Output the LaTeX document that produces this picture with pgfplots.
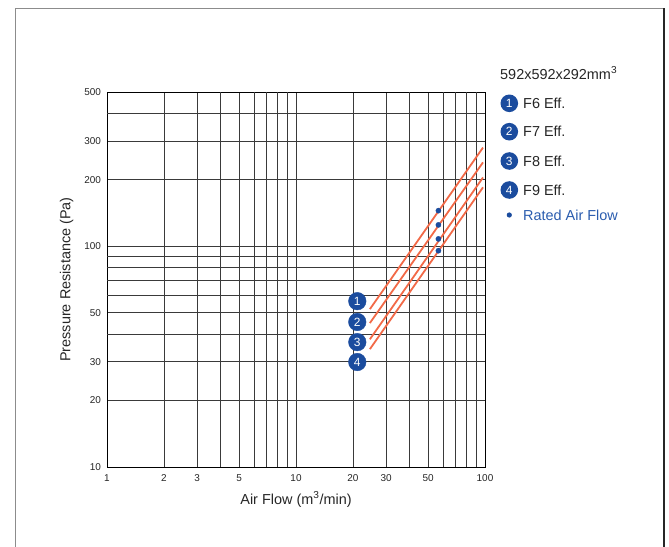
\documentclass[border=0pt]{standalone}
\usepackage{pgfplots}
\pgfplotsset{compat=1.18}
\usepackage{fontspec}
\setmainfont{Liberation Sans}
\definecolor{cblue}{HTML}{1B4C9E}
\definecolor{tblue}{HTML}{2A5CAE}
\definecolor{lorange}{HTML}{F26A48}
\definecolor{gridc}{HTML}{3A3A3A}
\begin{document}
\begin{tikzpicture}
\useasboundingbox (0,0) rectangle (669bp,-547bp);
% outer frame
\draw[line width=1bp, black!45] (15bp,-560bp) -- (15bp,-8bp) -- (664bp,-8bp);
\draw[line width=1.2bp, black!85] (664bp,-8bp) -- (664bp,-560bp);
\begin{axis}[
  at={(107bp,-467bp)}, anchor=south west,
  scale only axis, width=378bp, height=375bp,
  xmode=log, ymode=log,
  xmin=1, xmax=100, ymin=10, ymax=500,
  clip=false,
  axis line style={line width=0.8bp, black},
  xtick={1,2,3,5,10,20,30,50,100},
  xticklabels={1,2,3,5,10,20,30,50,100},
  ytick={10,20,30,50,100,200,300,500},
  yticklabels={10,20,30,50,100,200,300,500},
  extra x ticks={4,6,7,8,9,40,60,70,80,90},
  extra x tick labels={},
  extra y ticks={40,60,70,80,90,400},
  extra y tick labels={},
  extra x tick style={grid=major},
  extra y tick style={grid=major},
  minor tick num=0,
  major tick length=0pt,
  grid=major,
  major grid style={line width=0.7bp, gridc},
  tick label style={font=\fontsize{10}{11}\selectfont, text=black!85},
  xticklabel style={yshift=-4bp},
  yticklabel style={xshift=-2.5bp},
  xlabel={Air Flow (m\textsuperscript{3}/min)},
  ylabel={Pressure Resistance (Pa)},
  label style={font=\fontsize{14.5}{16}\selectfont, text=black!85},
  xlabel style={at={(axis description cs:0.5,-0.0987)}, anchor=base},
  ylabel style={at={(axis description cs:-0.097,0.5)}, anchor=base},
]
% pressure resistance lines
\addplot[lorange, line width=1.8bp] coordinates {(24.6,51.9) (97.6,280)};
\addplot[lorange, line width=1.8bp] coordinates {(24.6,44.9) (97.6,240)};
\addplot[lorange, line width=1.8bp] coordinates {(24.6,37.9) (97.6,205)};
\addplot[lorange, line width=1.8bp] coordinates {(24.6,34.2) (97.6,185)};
% rated air flow points
\addplot[only marks, mark=*, mark size=2.6bp, cblue, mark options={draw=cblue, fill=cblue}]
  coordinates {(56.7,145) (56.7,125) (56.7,108) (56.7,95.5)};
% numbered labels
\addplot[only marks, mark=*, mark size=8.8bp, mark options={draw=cblue, fill=cblue},
  nodes near coords, point meta=explicit symbolic,
  every node near coord/.style={anchor=center, text=white, font=\fontsize{12}{13}\selectfont}]
  table[row sep=\\, meta=label] {
  x y label \\
  21.1 56.4 1 \\
  21.1 45.4 2 \\
  21.1 36.8 3 \\
  21.1 29.9 4 \\
  };
\end{axis}
% legend
\node[anchor=base west, inner sep=0, font=\fontsize{14.5}{16}\selectfont, text=black!85] at (500bp,-79bp) {592x592x292mm\textsuperscript{3}};
\foreach \n/\lab/\yy in {1/F6 Eff./103.3, 2/F7 Eff./131.7, 3/F8 Eff./161, 4/F9 Eff./190}{
  \fill[cblue] (509.3bp,-\yy bp) circle (8.8bp);
  \node[text=white, font=\fontsize{12}{13}\selectfont, inner sep=0] at (509.3bp,-\yy bp) {\n};
  \node[anchor=west, inner sep=0, font=\fontsize{14.5}{16}\selectfont, text=black!85] at (523bp,-\yy bp) {\lab};
}
\fill[cblue] (509.3bp,-215bp) circle (2.6bp);
\node[anchor=west, inner sep=0, font=\fontsize{14.5}{16}\selectfont, text=tblue] at (523bp,-215bp) {Rated Air Flow};
\end{tikzpicture}
\end{document}
